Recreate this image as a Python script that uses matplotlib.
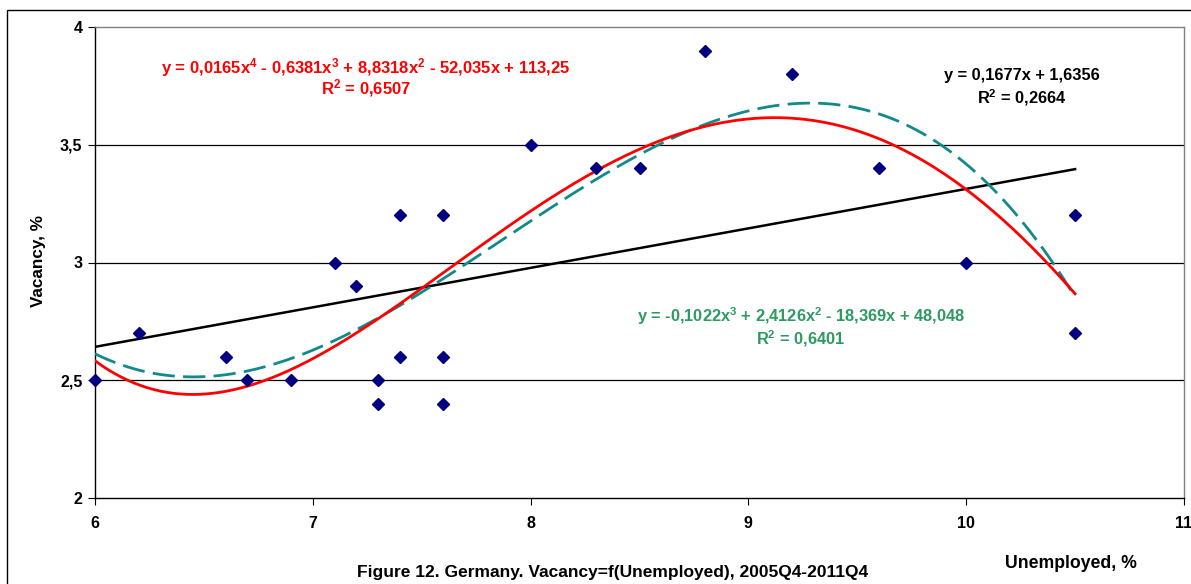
import numpy as np
import matplotlib
matplotlib.use("Agg")
import matplotlib.pyplot as plt
from matplotlib.patches import Rectangle

# Quarterly observations, 2005Q4-2011Q4
unemployed = [6.0, 6.2, 6.6, 6.7, 6.9, 7.1, 7.2, 7.3, 7.3, 7.4, 7.4, 7.6, 7.6, 7.6,
              8.0, 8.3, 8.5, 8.8, 9.2, 9.6, 10.0, 10.5, 10.5]
vacancy = [2.5, 2.7, 2.6, 2.5, 2.5, 3.0, 2.9, 2.5, 2.4, 3.2, 2.6, 3.2, 2.6, 2.4,
           3.5, 3.4, 3.4, 3.9, 3.8, 3.4, 3.0, 3.2, 2.7]

# Trend line coefficients (highest power first)
coef_linear = [0.1677, 1.6356]
coef_cubic = [-0.1022, 2.4126, -18.369, 48.048]
coef_quartic = [0.016532, -0.63809, 8.8318, -52.035, 113.25]

x_ticks = [6, 7, 8, 9, 10, 11]
x_tick_labels = ["6", "7", "8", "9", "10", "11"]
y_ticks = [2, 2.5, 3, 3.5, 4]
y_tick_labels = ["2", "2,5", "3", "3,5", "4"]

eq_linear = ["y = 0,1677x + 1,6356", "R$^2$ = 0,2664"]
eq_quartic = ["y = 0,0165x$^4$ - 0,6381x$^3$ + 8,8318x$^2$ - 52,035x + 113,25", "R$^2$ = 0,6507"]
eq_cubic = ["y = -0,1022x$^3$ + 2,4126x$^2$ - 18,369x + 48,048", "R$^2$ = 0,6401"]

plt.rcParams["font.family"] = ["Liberation Sans", "DejaVu Sans"]
plt.rcParams["mathtext.fontset"] = "custom"
plt.rcParams["mathtext.rm"] = "Liberation Sans:bold"
plt.rcParams["mathtext.default"] = "rm"

W, H = 1191, 584
fig = plt.figure(figsize=(W / 100, H / 100), dpi=100)
ax = fig.add_axes([95 / W, 86 / H, 1089 / W, 471 / H])

x = np.array(unemployed)
y = np.array(vacancy)
xs = np.linspace(x.min(), x.max(), 300)

for yy in [2.5, 3.0, 3.5]:
    ax.axhline(yy, color="black", lw=0.9, zorder=1)

ax.plot(xs, np.polyval(coef_linear, xs), color="black", lw=1.8, zorder=3)
ax.plot(xs, np.polyval(coef_cubic, xs), color="#108a8a", lw=2.0, dashes=(8, 3), zorder=3)
ax.plot(xs, np.polyval(coef_quartic, xs), color="#ff0000", lw=2.0, zorder=4)
ax.plot(x, y, linestyle="none", marker="D", ms=6.3, color="#000080", zorder=5, clip_on=False)

ax.set_xlim(6, 11)
ax.set_ylim(2, 4)
ax.set_xticks(x_ticks)
ax.set_xticklabels(x_tick_labels)
ax.set_yticks(y_ticks)
ax.set_yticklabels(y_tick_labels)
ax.tick_params(axis="both", direction="out", length=5, width=0.8, labelsize=11.5, pad=4)
ax.tick_params(axis="x", pad=8)
for lab in ax.get_xticklabels() + ax.get_yticklabels():
    lab.set_fontweight("bold")

ax.spines["left"].set_color("black")
ax.spines["bottom"].set_color("black")
ax.spines["top"].set_color("#808080")
ax.spines["right"].set_color("#808080")
for s in ax.spines.values():
    s.set_linewidth(1.0)

# Equation labels
txt = dict(transform=ax.transAxes, ha="center", va="center", weight="bold")
ax.text(0.249, 0.914, eq_quartic[0], color="#ff0000", fontsize=12, **txt)
ax.text(0.249, 0.870, eq_quartic[1], color="#ff0000", fontsize=12, **txt)
ax.text(0.851, 0.896, eq_linear[0], color="black", fontsize=11.8, **txt)
ax.text(0.851, 0.849, eq_linear[1], color="black", fontsize=11.8, **txt)
ax.text(0.648, 0.386, eq_cubic[0], color="#2e9a62", fontsize=11.8, **txt)
ax.text(0.648, 0.339, eq_cubic[1], color="#2e9a62", fontsize=11.8, **txt)

fig.text(39 / W, 1 - 261 / H, "Vacancy, %", rotation=90, ha="center", va="center",
         fontsize=12.3, weight="bold")
fig.text(1071 / W, 1 - 563 / H, "Unemployed, %", ha="center", va="center",
         fontsize=12.7, weight="bold")
fig.text(613 / W, 1 - 573 / H, "Figure 12. Germany. Vacancy=f(Unemployed), 2005Q4-2011Q4",
         ha="center", va="center", fontsize=12.5, weight="bold")

# Outer chart frame
fig.patches.append(Rectangle((7 / W, -0.1), 1.2, 1 - 10 / H + 0.1, transform=fig.transFigure,
                             fill=False, edgecolor="black", lw=1.0))

fig.savefig("out.png", dpi=100)
